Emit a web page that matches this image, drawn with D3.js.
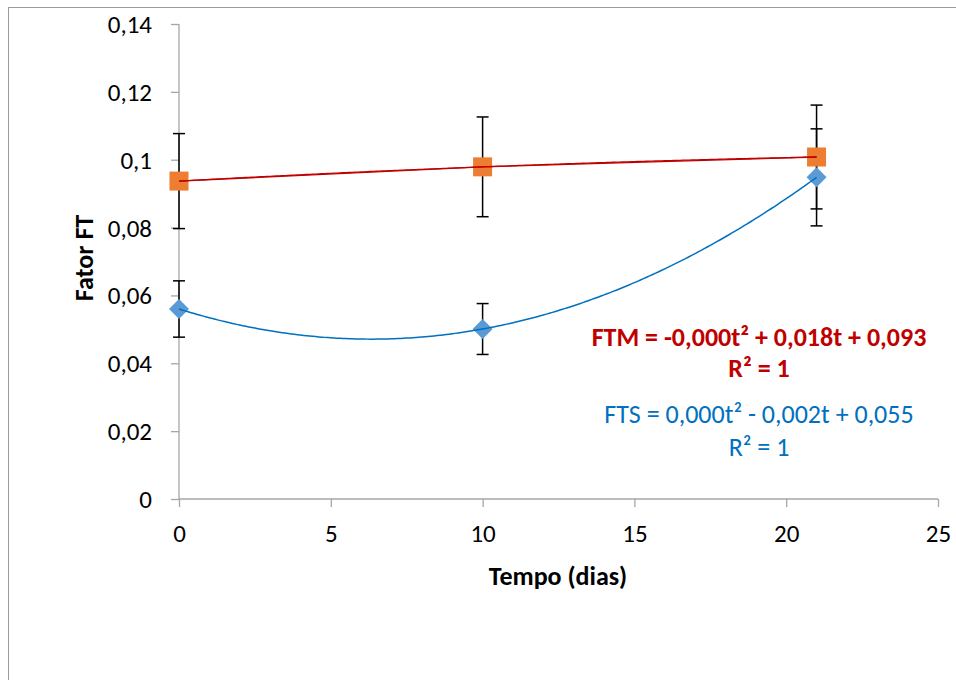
<!DOCTYPE html>
<html><head><meta charset="utf-8">
<script src="https://cdn.jsdelivr.net/npm/d3@7"></script>
<style>body{margin:0;background:#fff}svg{display:block}</style>
</head><body><svg id="c" width="956" height="680"></svg>
<script>
const days = [0, 10, 21];
const ftmValues = [0.0937, 0.0979, 0.1008];
const ftmErrors = [0.0140, 0.0147, 0.0153];
const ftsValues = [0.0560, 0.0501, 0.0948];
const ftsErrors = [0.0083, 0.0075, 0.0143];
const xTicks = [0, 5, 10, 15, 20, 25];
const yTicks = [0, 0.02, 0.04, 0.06, 0.08, 0.1, 0.12, 0.14];
const ftmEquation = ["FTM = -0,000t² + 0,018t + 0,093", "R² = 1"];
const ftsEquation = ["FTS = 0,000t² - 0,002t + 0,055", "R² = 1"];

const svg = d3.select("#c");
const font = "Calibri, Carlito, 'Open Sans', sans-serif";
const x = d3.scaleLinear().domain([0, 25]).range([179, 938]);
const y = d3.scaleLinear().domain([0, 0.14]).range([499, 24]);

svg.append("rect").attr("x", 8.5).attr("y", 7.5).attr("width", 1000).attr("height", 1000)
  .attr("fill", "#fff").attr("stroke", "#9a9a9a").attr("stroke-width", 1);

const fmt = v => d3.format("")(+v.toFixed(2)).replace(".", ",");

const yAxis = d3.axisLeft(y).tickValues(yTicks).tickSize(8).tickPadding(19).tickFormat(fmt);
const gy = svg.append("g").attr("transform", "translate(179,0)").call(yAxis);
const xAxis = d3.axisBottom(x).tickValues(xTicks).tickSize(8).tickPadding(20).tickFormat(d => d);
const gx = svg.append("g").attr("transform", "translate(0,499)").call(xAxis);
[gx, gy].forEach(g => {
  g.select(".domain").attr("stroke", "#a6a6a6").attr("stroke-width", 1.3);
  g.selectAll(".tick line").attr("stroke", "#a6a6a6").attr("stroke-width", 1.3);
  g.selectAll("text").attr("font-family", font).attr("font-size", 25).attr("fill", "#000");
});
gy.select(".domain").attr("d", "M0,24V499");
gx.select(".domain").attr("d", "M179,0H938");
gy.selectAll("text").attr("dy", "0.34em");
gx.selectAll("text").attr("dy", "0.6em");

// quadratic fit through points (exact for 3 points)
function quadFit(xs, ys) {
  const [x0, x1, x2] = xs, [y0, y1, y2] = ys;
  const d1 = (y1 - y0) / (x1 - x0), d2 = (y2 - y1) / (x2 - x1);
  const a = (d2 - d1) / (x2 - x0);
  const b = d1 - a * (x0 + x1);
  const c = y0 - a * x0 * x0 - b * x0;
  return t => a * t * t + b * t + c;
}
const fFTM = quadFit(days, ftmValues), fFTS = quadFit(days, ftsValues);
const ts = d3.range(0, 21.001, 0.1);

function errorBars(vals, errs) {
  const g = svg.append("g").attr("stroke", "#000").attr("stroke-width", 1.5);
  days.forEach((d, i) => {
    const cx = x(d), lo = y(vals[i] - errs[i]), hi = y(vals[i] + errs[i]);
    g.append("line").attr("x1", cx).attr("x2", cx).attr("y1", lo).attr("y2", hi);
    g.append("line").attr("x1", cx - 6).attr("x2", cx + 6).attr("y1", lo).attr("y2", lo);
    g.append("line").attr("x1", cx - 6).attr("x2", cx + 6).attr("y1", hi).attr("y2", hi);
  });
}
errorBars(ftmValues, ftmErrors);
errorBars(ftsValues, ftsErrors);

svg.append("g").selectAll("rect").data(days).join("rect")
  .attr("x", d => x(d) - 9.5).attr("y", (d, i) => y(ftmValues[i]) - 9.5)
  .attr("width", 19).attr("height", 19).attr("fill", "#ED7D31");
svg.append("g").selectAll("path").data(days).join("path")
  .attr("transform", (d, i) => `translate(${x(d)},${y(ftsValues[i])})`)
  .attr("d", "M0,-10L10,0L0,10L-10,0Z").attr("fill", "#5B9BD5");

const line = d3.line().x(d => x(d[0])).y(d => y(d[1]));
svg.append("path").attr("d", line(days.map((d, i) => [d, ftmValues[i]])))
  .attr("fill", "none").attr("stroke", "#C00000").attr("stroke-width", 1.3);
svg.append("path").attr("d", line(ts.map(t => [t, fFTM(t)])))
  .attr("fill", "none").attr("stroke", "#C00000").attr("stroke-width", 1.3);
svg.append("path").attr("d", line(ts.map(t => [t, fFTS(t)])))
  .attr("fill", "none").attr("stroke", "#0070C0").attr("stroke-width", 1.5);

svg.append("text").attr("x", 558).attr("y", 585).attr("text-anchor", "middle")
  .attr("font-family", font).attr("font-size", 26).attr("font-weight", "bold").text("Tempo (dias)");
svg.append("text").attr("transform", "translate(93,258) rotate(-90)").attr("text-anchor", "middle")
  .attr("font-family", font).attr("font-size", 26).attr("font-weight", "bold").text("Fator FT");

function eq(lines, y0, gap, color, bold) {
  lines.forEach((t, i) => {
    svg.append("text").attr("x", 759).attr("y", y0 + i * gap).attr("text-anchor", "middle")
      .attr("font-family", font).attr("font-size", 26).attr("font-weight", bold ? "bold" : "normal")
      .attr("fill", color).text(t);
  });
}
eq(ftmEquation, 346, 31, "#C00000", true);
eq(ftsEquation, 423, 33, "#0070C0", false);
</script></body></html>
